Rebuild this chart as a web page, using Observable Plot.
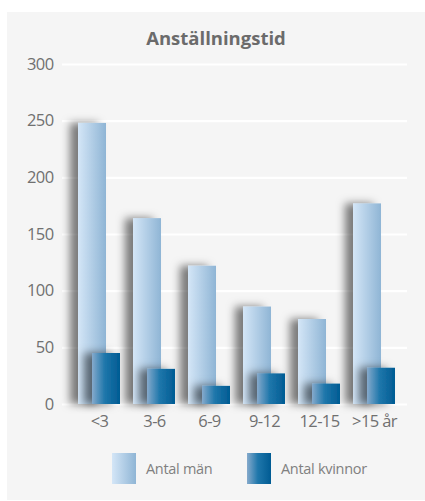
<!DOCTYPE html>
<html>
<head>
<meta charset="utf-8">
<script src="https://cdn.jsdelivr.net/npm/d3@7"></script>
<script src="https://cdn.jsdelivr.net/npm/@observablehq/plot@0.6"></script>
<style>
  html, body { margin: 0; padding: 0; background: #fff; }
  body { width: 425px; height: 501px; position: relative; overflow: hidden; font-family: "Open Sans", sans-serif; }
  #panel { position: absolute; left: 7px; top: 12px; width: 418px; height: 488px; background: #f5f5f5; }
  #title { position: absolute; left: 0; width: 100%; top: 14px; text-align: center; font-size: 18.5px; font-weight: 700; color: #6b6b6b; line-height: 24px; }
  #chart { position: absolute; left: 0; top: 40px; }
  #chart svg text { font-size: 16.5px; letter-spacing: -0.6px; fill: #707070; }
  .legend { position: absolute; top: 441px; height: 31px; display: flex; align-items: center; font-size: 14.5px; letter-spacing: -0.3px; color: #808080; }
  .swatch { width: 24px; height: 31px; margin-right: 10px; }
</style>
</head>
<body>
<div id="panel">
  <div id="title">Anställningstid</div>
  <div id="chart"></div>
  <div class="legend" style="left:105px"><div class="swatch" style="background:linear-gradient(to right,#d4e6f7,#8fb5d5)"></div><span>Antal män</span></div>
  <div class="legend" style="left:240px"><div class="swatch" style="background:linear-gradient(to right,#86aacc,#1f77ab 45%,#005b93)"></div><span>Antal kvinnor</span></div>
</div>
<script>
// Anställningstid (years of employment), headcount by group
const categories = ["<3", "3-6", "6-9", "9-12", "12-15", ">15 år"];
const men = [248, 164, 122, 86, 75, 177];
const women = [45, 31, 16, 27, 18, 32];
const yTicks = [0, 50, 100, 150, 200, 250, 300];

const data = categories.map((c, i) => ({cat: c, men: men[i], women: women[i]}));

const svg = Plot.plot({
  width: 418,
  height: 392,
  marginTop: 12,
  marginBottom: 40,
  marginLeft: 55,
  marginRight: 18,
  style: {background: "transparent", fontFamily: "'Open Sans', sans-serif", fontSize: "16px", color: "#707070", overflow: "visible"},
  x: {domain: categories, range: [71, 388], paddingInner: 0.2364, paddingOuter: 0, label: null},
  y: {domain: [0, 300], label: null},
  marks: [
    Plot.ruleY(yTicks, {stroke: "#ffffff", strokeWidth: 2.2}),
    Plot.barY(data, {x: "cat", y: "men", fill: "url(#gradMen)", insetRight: 14}),
    Plot.barY(data, {x: "cat", y: "women", fill: "url(#gradWomen)", insetLeft: 14}),
    Plot.axisY({ticks: yTicks, tickSize: 0, tickPadding: 9, fontSize: 16, label: null}),
    Plot.axisX({tickSize: 0, tickPadding: 11, fontSize: 16, label: null})
  ]
});

// gradients and the soft left-hand shadow behind the bars
const s = d3.select(svg);
const defs = s.insert("defs", ":first-child");
const gm = defs.append("linearGradient").attr("id", "gradMen").attr("x1", 0).attr("x2", 1).attr("y1", 0).attr("y2", 0);
gm.append("stop").attr("offset", 0).attr("stop-color", "#d4e6f7");
gm.append("stop").attr("offset", 1).attr("stop-color", "#8fb5d5");
const gw = defs.append("linearGradient").attr("id", "gradWomen").attr("x1", 0).attr("x2", 1).attr("y1", 0).attr("y2", 0);
gw.append("stop").attr("offset", 0).attr("stop-color", "#86aacc");
gw.append("stop").attr("offset", 0.45).attr("stop-color", "#1f77ab");
gw.append("stop").attr("offset", 1).attr("stop-color", "#005b93");
const f = defs.append("filter").attr("id", "barShadow")
  .attr("x", "-20%").attr("y", "-20%").attr("width", "140%").attr("height", "140%");
f.append("feDropShadow").attr("dx", -8).attr("dy", 0).attr("stdDeviation", 4.5)
  .attr("flood-color", "#000").attr("flood-opacity", 0.5);
s.selectAll('g[aria-label="bar"]').attr("filter", "url(#barShadow)");

document.getElementById("chart").appendChild(svg);
</script>
</body>
</html>
